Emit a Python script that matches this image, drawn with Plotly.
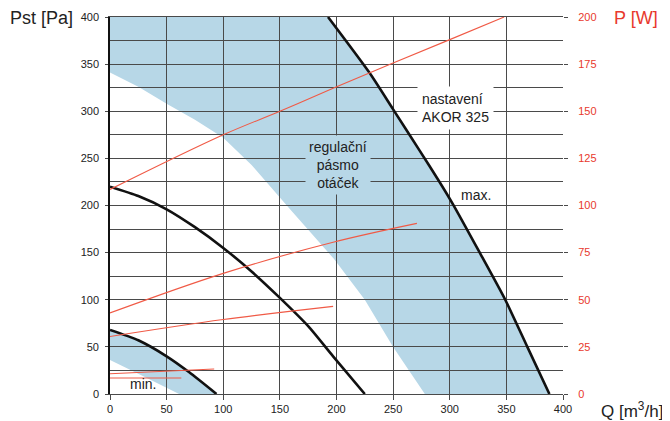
import plotly.graph_objects as go

# ---- data ----
q_ticks = [0, 50, 100, 150, 200, 250, 300, 350, 400]
pst_ticks = [0, 50, 100, 150, 200, 250, 300, 350, 400]
pw_ticks = [0, 25, 50, 75, 100, 125, 150, 175, 200]

# fan curves Pst [Pa] vs Q [m3/h]
max_q = [192.5, 229, 250, 273, 291, 303, 326, 349, 368.5, 388]
max_p = [400, 341, 302, 259, 225, 201, 151, 100, 50, 0]
mid_q = [0, 25, 50, 75, 100, 125, 150, 175, 197, 225]
mid_p = [220, 210, 196, 177, 155, 130, 102, 72, 40, 0]
min_q = [0, 25, 50, 70, 94]
min_p = [68, 57, 40, 23, 0]

# regulation band boundaries
band_low_q = [0, 25, 50, 75, 100, 125, 159, 198, 225, 250, 278]
band_low_p = [341, 326, 308, 291, 272, 243, 196, 143, 100, 50, 0]
minband_low_q = [0, 29, 61]
minband_low_p = [36, 19, 0]

# power curves P [W] vs Q
p1_q = [0, 100, 150, 198, 300, 348]
p1_w = [108.5, 137.5, 150, 162.5, 188, 200]
p2_q = [0, 100, 197, 271]
p2_w = [43, 64, 80.5, 90.5]
p3_q = [0, 100, 197]
p3_w = [30.5, 39.5, 46.5]
p4_q = [0, 92]
p4_w = [10.75, 13.25]
p5_q = [0, 63]
p5_w = [8.5, 8.5]

BLUE = "#b7d7e7"
RED = "#f05a46"
REDTXT = "#e8392d"
GRID = "#4a4a4a"
FONT = "Liberation Sans"


def path_from(xs, ys):
    pts = " L ".join(f"{x},{y}" for x, y in zip(xs, ys))
    return "M " + pts + " Z"


# big band polygon
big_x = [0] + band_low_q + max_q[::-1]
big_y = [400] + band_low_p + max_p[::-1]
# min band polygon
small_x = min_q + minband_low_q[::-1]
small_y = min_p + minband_low_p[::-1]

fig = go.Figure()

for qs, ws in [(p1_q, p1_w), (p2_q, p2_w), (p3_q, p3_w), (p4_q, p4_w), (p5_q, p5_w)]:
    fig.add_trace(go.Scatter(x=qs, y=ws, yaxis="y2", mode="lines",
                             line=dict(color=RED, width=1.1, shape="spline"),
                             showlegend=False, hoverinfo="skip"))

for qs, ps in [(max_q, max_p), (mid_q, mid_p), (min_q, min_p)]:
    fig.add_trace(go.Scatter(x=qs, y=ps, mode="lines",
                             line=dict(color="#111111", width=2.6, shape="spline",
                                       smoothing=0.6),
                             showlegend=False, hoverinfo="skip"))

fig.add_shape(type="path", path=path_from(big_x, big_y), xref="x", yref="y",
              fillcolor=BLUE, line=dict(width=0), layer="below")
fig.add_shape(type="path", path=path_from(small_x, small_y), xref="x", yref="y",
              fillcolor=BLUE, line=dict(width=0), layer="below")

fig.update_layout(
    width=662, height=413,
    margin=dict(l=102, r=107, t=9, b=27, autoexpand=False),
    paper_bgcolor="white", plot_bgcolor="rgba(0,0,0,0)",
    font=dict(family=FONT, size=11, color="#222222"),
    xaxis=dict(range=[0, 400], tickvals=q_ticks, showgrid=True, gridcolor=GRID,
               gridwidth=1.2, zeroline=False, ticks="outside", ticklen=5,
               tickcolor=GRID, tickwidth=1.2, showline=True, linecolor=GRID,
               linewidth=1.2, mirror=True, automargin=False,
               tickfont=dict(size=11, color="#222")),
    yaxis=dict(range=[0, 400], tickvals=pst_ticks, showgrid=True, gridcolor=GRID,
               gridwidth=1.2, zeroline=False, ticks="outside", ticklen=3,
               tickcolor=GRID, tickwidth=1.2, showline=True, linecolor="#111",
               linewidth=1.6, tickfont=dict(size=11, color="#222"),
               ticklabelstandoff=4, automargin=False,
               minor=dict(dtick=25, tick0=0, showgrid=True, gridcolor=GRID,
                          gridwidth=1.2, ticks="")),
    yaxis2=dict(range=[0, 200], tickvals=pw_ticks, overlaying="y", side="right",
                showgrid=False, zeroline=False, ticks="outside", ticklen=4,
                tickcolor=GRID, tickwidth=1.2, ticklabelstandoff=8, automargin=False,
                tickfont=dict(size=11, color=REDTXT)),
)

ann = [
    dict(x=-0.225, y=0.997, xref="paper", yref="paper", text="Pst [Pa]",
         font=dict(size=18, color="#222"), xanchor="left", yanchor="middle", showarrow=False),
    dict(x=1.108, y=0.997, xref="paper", yref="paper", text="P [W]",
         font=dict(size=18, color=REDTXT), xanchor="left", yanchor="middle", showarrow=False),
    dict(x=1.080, y=-0.042, xref="paper", yref="paper", text="Q [m<sup>3</sup>/h]",
         font=dict(size=17, color="#222"), xanchor="left", yanchor="middle", showarrow=False),
    dict(x=201, y=243, xref="x", yref="y", text="regulační<br>pásmo<br>otáček",
         font=dict(size=14, color="#222"), bgcolor=BLUE, borderpad=3, showarrow=False),
    dict(x=305, y=303, xref="x", yref="y", text="nastavení<br>AKOR 325",
         font=dict(size=14, color="#222"), bgcolor="white", borderpad=4, align="left",
         showarrow=False),
    dict(x=323, y=211, xref="x", yref="y", text="max.",
         font=dict(size=14, color="#222"), showarrow=False),
    dict(x=29, y=11, xref="x", yref="y", text="min.",
         font=dict(size=14, color="#222"), showarrow=False),
]
fig.update_layout(annotations=ann)

fig.write_html("out.html")
